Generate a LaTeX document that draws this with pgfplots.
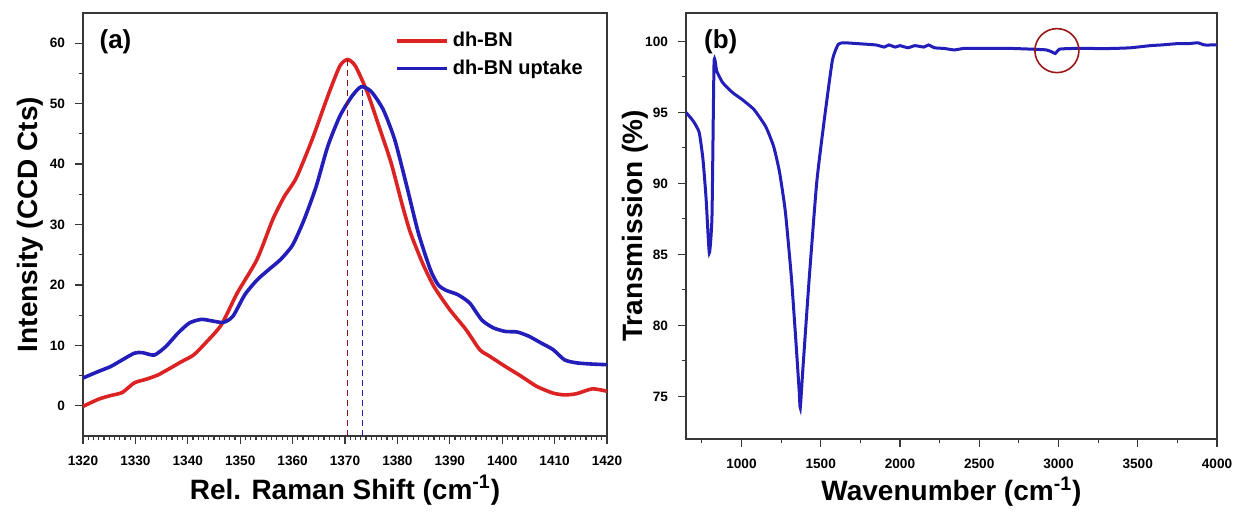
\documentclass[border=0pt]{standalone}
\usepackage{pgfplots}
\pgfplotsset{compat=1.18}
\usepackage{fontspec}
\setmainfont{Liberation Sans}
\definecolor{cred}{RGB}{220,35,35}
\definecolor{cblue}{RGB}{35,30,185}
\definecolor{frame}{RGB}{55,55,55}
\begin{document}
\begin{tikzpicture}
\useasboundingbox (0,0) rectangle (619.5pt,256pt);
\pgfplotsset{
  every axis/.append style={
    scale only axis,
    axis line style={frame, line width=0.8pt},
    tick style={frame, line width=0.6pt},
    tick align=outside,
    major tick length=4pt,
    minor tick length=2.2pt,
    tick label style={font=\bfseries\fontsize{6.8}{7.5}\selectfont},
    xticklabel style={yshift=-2.5pt},
    yticklabel style={xshift=-1.5pt},
    /pgf/number format/assume math mode=true,
    /pgf/number format/1000 sep={},
    label style={font=\bfseries\fontsize{14}{16}\selectfont},
    xtick pos=bottom, ytick pos=left,
    clip=true,
  }
}
% ---------------- panel (a)
\begin{axis}[
  at={(41.5pt,38pt)}, anchor=south west,
  width=262pt, height=211.5pt,
  xmin=1320, xmax=1420, ymin=-5, ymax=65,
  xtick={1320,1330,...,1420}, minor x tick num=9,
  ytick={0,10,...,60}, minor y tick num=1,
  xlabel={Rel. Raman Shift (cm\textsuperscript{-1})},
  ylabel={Intensity (CCD Cts)},
  xlabel style={at={(axis description cs:0.5,-0.128)}, anchor=center},
  ylabel style={at={(axis description cs:-0.101,0.5)}, anchor=center},
  legend style={at={(0.595,0.965)}, anchor=north west, draw=none, fill=none,
    font=\bfseries\fontsize{10}{12.5}\selectfont, inner sep=0pt,
    row sep=1pt},
  legend cell align=left,
  legend image code/.code={\draw[#1, line width=1.8pt] (0pt,0pt) -- (25pt,0pt);},
]
\addplot[cred, line width=1.8pt, smooth, tension=0.4] coordinates {
(1320,-0.1) (1323,1.1) (1325.3,1.7) (1327.5,2.2) (1329.8,3.8) (1332.1,4.4)
(1334.3,5.1) (1336.6,6.2) (1338.8,7.3) (1341.1,8.4) (1343.4,10.4) (1346.4,13.4)
(1349.4,18.6) (1353.2,24.2) (1356.2,30.8) (1358.4,34.6) (1360.7,37.7)
(1363.7,44.0) (1366.7,51.2) (1369,56.2) (1370.5,57.3) (1372,56.2)
(1374.3,51.8) (1376.5,46.2) (1378.8,40.2) (1381,33.0) (1382.5,28.6)
(1384.8,23.6) (1387,19.7) (1390,15.9) (1393.1,12.6) (1395.7,9.3)
(1397.6,8.2) (1400.6,6.5) (1403.6,4.9) (1406.6,3.2) (1409.7,2.1)
(1411.9,1.8) (1414.2,2.0) (1417.2,2.8) (1420,2.4)};
\addlegendentry{dh-BN}
\addplot[cblue, line width=1.8pt, smooth, tension=0.4] coordinates {
(1320,4.6) (1323,5.7) (1325.3,6.5) (1327.5,7.6) (1329.8,8.7) (1331.3,8.8)
(1333.6,8.4) (1335.8,9.8) (1338.1,12.0) (1340.3,13.7) (1342.6,14.3)
(1344.9,14.0) (1346.8,13.8) (1348.6,14.8) (1350.9,18.4) (1353.2,20.8)
(1355.4,22.5) (1357.7,24.2) (1360,26.6) (1362.2,30.8) (1364.5,36.3)
(1366.7,42.9) (1369,47.9) (1371.3,51.2) (1373.1,52.8) (1375,52.0)
(1377.3,49.0) (1379.5,44.0) (1381.8,36.3) (1384,28.6) (1386.3,22.5)
(1387.8,20.0) (1389.3,19.1) (1391.5,18.4) (1393.8,17.0) (1396.1,14.2)
(1398.3,12.9) (1400.6,12.3) (1402.9,12.2) (1405.1,11.5) (1407.4,10.4)
(1409.7,9.3) (1411.9,7.6) (1414.2,7.1) (1417.2,6.9) (1420,6.8)};
\addlegendentry{dh-BN uptake}
\addplot[cred!60!black, densely dashed, line width=0.6pt, forget plot] coordinates {(1370.5,-5) (1370.5,57.3)};
\addplot[cblue, densely dashed, line width=0.6pt, forget plot] coordinates {(1373.4,-5) (1373.4,52.8)};
\node[font=\bfseries\fontsize{13}{15}\selectfont, anchor=center] at (axis cs:1326.2,60.2) {(a)};
\end{axis}
% ---------------- panel (b)
\begin{axis}[
  at={(343pt,36.5pt)}, anchor=south west,
  width=265.5pt, height=213pt,
  xmin=650, xmax=4000, ymin=72, ymax=102,
  xtick={1000,1500,...,4000}, minor xtick={750,1250,...,3750},
  ytick={75,80,...,100}, minor y tick num=1,
  xlabel={Wavenumber (cm\textsuperscript{-1})},
  ylabel={Transmission (\%)},
  xlabel style={at={(axis description cs:0.5,-0.124)}, anchor=center},
  ylabel style={at={(axis description cs:-0.096,0.5)}, anchor=center},
]
\addplot[cblue, line width=1.5pt, smooth, tension=0.3] coordinates {
(650,95.0) (695,94.4) (733,93.6) (757,91.7) (777,88.9) (797,85.1)
(814,87.7) (827,98.5) (844,97.9) (881,97.1) (943,96.4) (1005,95.9)
(1079,95.2) (1153,94.0) (1203,92.6) (1240,90.8) (1277,88.0) (1314,83.5)
(1339,79.6) (1364,75.4) (1371,74.2) (1389,77.2) (1426,83.1) (1475,90.1)
(1525,94.7) (1574,98.7) (1611,99.8) (1649,99.9) (1723,99.85) (1847,99.75)
(1900,99.6) (1930,99.75) (1970,99.6) (2000,99.7) (2050,99.55) (2094,99.7)
(2150,99.6) (2180,99.75) (2218,99.55) (2280,99.5) (2342,99.4) (2400,99.5)
(2465,99.5) (2600,99.5) (2713,99.5) (2837,99.45) (2923,99.4) (2960,99.25)
(2980,99.15) (3005,99.45) (3084,99.5) (3200,99.5) (3332,99.5) (3455,99.55)
(3579,99.7) (3650,99.75) (3703,99.8) (3760,99.85) (3827,99.85) (3880,99.9)
(3920,99.75) (3980,99.75) (4000,99.75)};
\draw[cred!70!black, line width=0.8pt] (axis cs:2990,99.35) circle[radius=11pt];
\node[font=\bfseries\fontsize{13}{15}\selectfont, anchor=center] at (axis cs:869,100) {(b)};
\end{axis}
\end{tikzpicture}
\end{document}
